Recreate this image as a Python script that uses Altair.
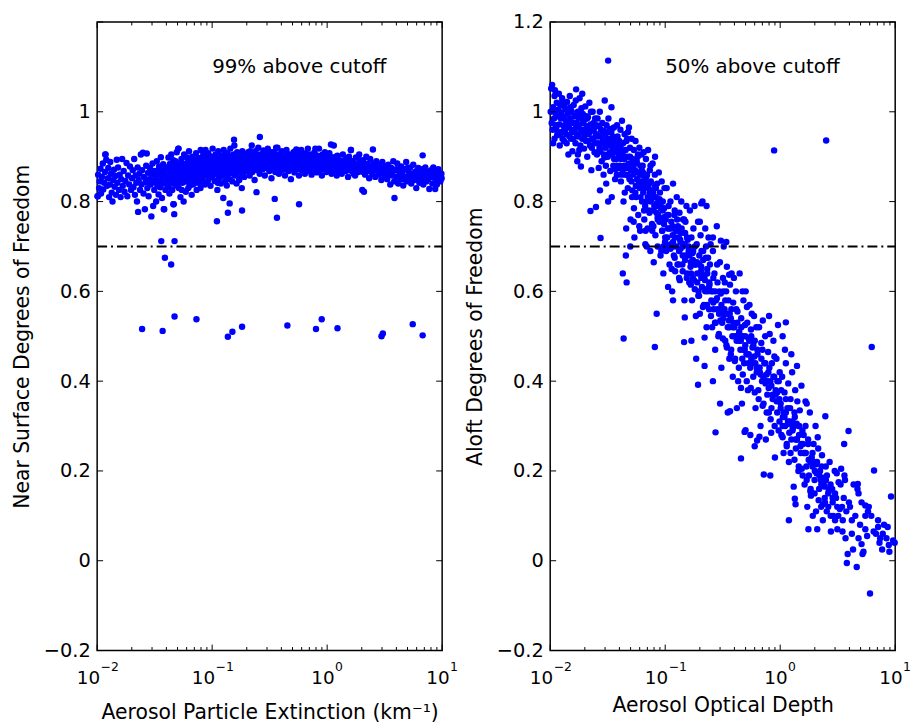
import altair as alt
import pandas as pd

# ---------------- left panel: near-surface DOF vs extinction ----------------
ext_a = [(0.0101,0.812),(0.0102,0.860),(0.0104,0.830),(0.0105,0.845),(0.0107,0.873),(0.0108,0.818),(0.0110,0.855),(0.0112,0.885),(0.0113,0.827),(0.0115,0.842),(0.0117,0.866),(0.0118,0.905),(0.0120,0.893),(0.0122,0.835),(0.0124,0.852),(0.0125,0.875),(0.0127,0.810),(0.0129,0.838),(0.0130,0.888),(0.0132,0.862),(0.0134,0.820),(0.0136,0.800),(0.0138,0.848),(0.0140,0.871),(0.0142,0.833),(0.0144,0.857),(0.0146,0.815),(0.0148,0.893),(0.0150,0.842),(0.0152,0.876),(0.0155,0.826),(0.0157,0.860),(0.0160,0.810),(0.0162,0.850),(0.0165,0.895),(0.0167,0.835),(0.0170,0.868),(0.0173,0.822),(0.0176,0.846),(0.0180,0.886),(0.0183,0.812),(0.0186,0.858),(0.0190,0.838),(0.0193,0.878),(0.0197,0.826)]
ext_b = [(0.0201,0.852),(0.0204,0.870),(0.0207,0.832),(0.0210,0.895),(0.0213,0.815),(0.0216,0.858),(0.0219,0.842),(0.0222,0.800),(0.0225,0.876),(0.0227,0.777),(0.0230,0.848),(0.0233,0.862),(0.0236,0.826),(0.0240,0.905),(0.0243,0.838),(0.0246,0.870),(0.0250,0.909),(0.0253,0.818),(0.0256,0.855),(0.0260,0.783),(0.0263,0.843),(0.0267,0.880),(0.0270,0.907),(0.0273,0.830),(0.0277,0.864),(0.0280,0.812),(0.0284,0.850),(0.0288,0.875),(0.0292,0.838),(0.0296,0.767),(0.0299,0.860),(0.0303,0.885),(0.0307,0.790),(0.0310,0.846),(0.0314,0.826),(0.0318,0.868),(0.0322,0.852),(0.0326,0.800),(0.0330,0.890),(0.0334,0.835),(0.0338,0.860),(0.0342,0.816),(0.0346,0.878),(0.0350,0.847),(0.0354,0.832),(0.0358,0.899),(0.0362,0.865),(0.0366,0.808),(0.0370,0.853),(0.0375,0.883),(0.0380,0.783),(0.0384,0.840),(0.0388,0.872),(0.0393,0.826),(0.0397,0.858)]
ext_c = [(0.0402,0.845),(0.0405,0.876),(0.0409,0.860),(0.0413,0.832),(0.0417,0.898),(0.0421,0.852),(0.0425,0.818),(0.0429,0.884),(0.0433,0.866),(0.0437,0.840),(0.0441,0.905),(0.0445,0.870),(0.0450,0.826),(0.0454,0.855),(0.0459,0.892),(0.0463,0.794),(0.0468,0.772),(0.0472,0.848),(0.0477,0.878),(0.0482,0.862),(0.0487,0.836),(0.0492,0.910),(0.0497,0.870),(0.0502,0.850),(0.0508,0.918),(0.0513,0.830),(0.0518,0.885),(0.0524,0.866),(0.0530,0.810),(0.0535,0.852),(0.0541,0.895),(0.0547,0.875),(0.0553,0.842),(0.0559,0.862),(0.0565,0.800),(0.0571,0.905),(0.0577,0.882),(0.0583,0.856),(0.0590,0.822),(0.0596,0.870),(0.0603,0.898),(0.0609,0.845),(0.0616,0.876),(0.0622,0.860),(0.0629,0.912),(0.0636,0.835),(0.0643,0.888),(0.0650,0.868),(0.0657,0.850),(0.0664,0.815),(0.0671,0.900),(0.0679,0.878),(0.0686,0.857),(0.0694,0.840),(0.0701,0.892),(0.0709,0.870),(0.0717,0.848),(0.0725,0.908),(0.0733,0.826),(0.0741,0.882),(0.0749,0.862),(0.0757,0.842),(0.0766,0.897),(0.0774,0.875),(0.0783,0.855),(0.0792,0.830),(0.0795,0.915)]
ext_d = [(0.0801,0.868),(0.0810,0.890),(0.0819,0.850),(0.0828,0.875),(0.0837,0.905),(0.0846,0.858),(0.0856,0.884),(0.0865,0.838),(0.0875,0.915),(0.0885,0.866),(0.0895,0.895),(0.0905,0.878),(0.0915,0.845),(0.0925,0.908),(0.0936,0.860),(0.0946,0.888),(0.0957,0.872),(0.0968,0.835),(0.0979,0.900),(0.0990,0.880),(0.100,0.855),(0.101,0.918),(0.102,0.870),(0.104,0.892),(0.105,0.846),(0.106,0.878),(0.107,0.905),(0.108,0.862),(0.110,0.885),(0.111,0.826),(0.112,0.870),(0.113,0.912),(0.115,0.852),(0.116,0.895),(0.117,0.876),(0.119,0.840),(0.120,0.902),(0.121,0.866),(0.123,0.888),(0.124,0.858),(0.126,0.915),(0.127,0.878),(0.129,0.845),(0.130,0.898),(0.131,0.870),(0.133,0.885),(0.134,0.836),(0.136,0.908),(0.137,0.862),(0.139,0.892),(0.140,0.876),(0.142,0.850),(0.144,0.918),(0.145,0.882),(0.147,0.864),(0.149,0.900),(0.150,0.845),(0.152,0.888),(0.154,0.872),(0.156,0.925),(0.157,0.858),(0.159,0.896),(0.161,0.880),(0.163,0.840),(0.165,0.910),(0.167,0.868),(0.169,0.890),(0.171,0.852),(0.173,0.878),(0.175,0.902),(0.177,0.865),(0.179,0.884),(0.181,0.830),(0.183,0.912),(0.186,0.872),(0.188,0.895),(0.190,0.855),(0.192,0.880),(0.195,0.905),(0.197,0.868)]
ext_e = [(0.200,0.890),(0.203,0.872),(0.206,0.910),(0.209,0.882),(0.212,0.858),(0.215,0.900),(0.218,0.876),(0.221,0.925),(0.224,0.866),(0.228,0.895),(0.231,0.885),(0.234,0.848),(0.238,0.912),(0.241,0.878),(0.245,0.898),(0.248,0.870),(0.252,0.920),(0.256,0.888),(0.259,0.862),(0.263,0.905),(0.267,0.880),(0.271,0.895),(0.275,0.872),(0.279,0.914),(0.283,0.890),(0.287,0.858),(0.291,0.900),(0.296,0.882),(0.300,0.875),(0.305,0.918),(0.309,0.895),(0.314,0.868),(0.319,0.905),(0.323,0.885),(0.328,0.852),(0.333,0.898),(0.338,0.878),(0.343,0.910),(0.348,0.888),(0.354,0.866),(0.359,0.900),(0.364,0.880),(0.370,0.920),(0.375,0.892),(0.381,0.862),(0.387,0.905),(0.393,0.884),(0.399,0.870),(0.405,0.912),(0.411,0.895),(0.417,0.876),(0.423,0.900),(0.430,0.858),(0.436,0.888),(0.443,0.915),(0.449,0.878),(0.456,0.895),(0.463,0.868),(0.470,0.905),(0.477,0.885),(0.484,0.850),(0.491,0.892),(0.498,0.874)]
ext_f = [(0.505,0.900),(0.513,0.880),(0.520,0.865),(0.528,0.912),(0.536,0.890),(0.544,0.872),(0.552,0.905),(0.560,0.884),(0.569,0.858),(0.577,0.898),(0.586,0.876),(0.595,0.915),(0.604,0.892),(0.613,0.870),(0.622,0.902),(0.631,0.882),(0.640,0.862),(0.650,0.908),(0.660,0.888),(0.670,0.875),(0.680,0.918),(0.690,0.895),(0.700,0.868),(0.710,0.900),(0.721,0.884),(0.732,0.860),(0.743,0.905),(0.754,0.888),(0.765,0.872),(0.776,0.910),(0.788,0.893),(0.800,0.878),(0.812,0.865),(0.824,0.902),(0.836,0.885),(0.849,0.918),(0.861,0.870),(0.874,0.896),(0.887,0.880),(0.900,0.858),(0.914,0.905),(0.928,0.888),(0.942,0.874),(0.956,0.910),(0.970,0.892),(0.985,0.866),(1.000,0.900),(1.015,0.882),(1.030,0.870),(1.045,0.908),(1.060,0.890),(1.076,0.876),(1.092,0.862),(1.108,0.898),(1.125,0.885),(1.142,0.925),(1.159,0.872),(1.176,0.895),(1.194,0.880),(1.212,0.858),(1.230,0.902),(1.248,0.886),(1.267,0.868),(1.286,0.892)]
ext_g = [(1.31,0.880),(1.34,0.862),(1.37,0.905),(1.40,0.885),(1.43,0.870),(1.46,0.895),(1.49,0.876),(1.52,0.855),(1.55,0.900),(1.58,0.882),(1.61,0.915),(1.64,0.868),(1.68,0.890),(1.71,0.875),(1.75,0.858),(1.78,0.898),(1.82,0.880),(1.86,0.866),(1.90,0.905),(1.94,0.885),(1.98,0.872),(2.02,0.826),(2.06,0.892),(2.09,0.822),(2.10,0.878),(2.14,0.860),(2.19,0.900),(2.23,0.884),(2.28,0.868),(2.32,0.852),(2.37,0.895),(2.42,0.878),(2.47,0.862),(2.50,0.916),(2.52,0.885),(2.57,0.870),(2.62,0.855),(2.68,0.890),(2.73,0.874),(2.79,0.860),(2.85,0.882),(2.90,0.866),(2.96,0.848),(3.02,0.888),(3.08,0.872),(3.14,0.858),(3.20,0.878)]
ext_h = [(3.27,0.865),(3.33,0.850),(3.40,0.882),(3.47,0.868),(3.54,0.838),(3.61,0.875),(3.68,0.858),(3.76,0.890),(3.85,0.808),(3.83,0.845),(3.91,0.870),(3.99,0.855),(4.07,0.885),(4.15,0.840),(4.24,0.866),(4.32,0.850),(4.41,0.878),(4.50,0.862),(4.59,0.836),(4.68,0.872),(4.78,0.855),(4.87,0.888),(4.97,0.845),(5.07,0.868),(5.18,0.852),(5.28,0.876),(5.39,0.840),(5.50,0.862),(5.61,0.882),(5.72,0.848),(5.84,0.866),(5.96,0.830),(6.08,0.858),(6.20,0.875),(6.33,0.842),(6.46,0.862),(6.59,0.850),(6.77,0.903),(6.72,0.872),(6.86,0.838),(7.00,0.858),(7.14,0.876),(7.28,0.845),(7.43,0.865),(7.58,0.850),(7.74,0.828),(7.90,0.868),(8.06,0.855),(8.22,0.840),(8.39,0.876),(8.56,0.858),(8.70,0.828),(8.73,0.845),(8.91,0.866),(9.09,0.850),(9.27,0.872),(9.46,0.858),(9.65,0.845),(9.85,0.862)]
ext_fill = [(0.052,0.862),(0.056,0.884),(0.061,0.872),(0.066,0.890),(0.070,0.862),(0.074,0.895),(0.078,0.870),(0.083,0.882),(0.087,0.898),(0.091,0.868),(0.094,0.885),(0.098,0.864),(0.103,0.882),(0.109,0.896),(0.114,0.868),(0.118,0.885),(0.122,0.876),(0.128,0.900),(0.132,0.864),(0.138,0.882),(0.143,0.895),(0.148,0.872),(0.153,0.905),(0.158,0.885),(0.164,0.898),(0.170,0.875),(0.176,0.890),(0.182,0.902),(0.189,0.882),(0.196,0.895),(0.205,0.880),(0.214,0.912),(0.222,0.895),(0.232,0.905),(0.242,0.885),(0.250,0.900),(0.261,0.890),(0.273,0.905),(0.285,0.876),(0.298,0.895),(0.311,0.885),(0.326,0.910),(0.340,0.895),(0.356,0.878),(0.372,0.905),(0.390,0.892),(0.408,0.882),(0.426,0.900),(0.446,0.890),(0.466,0.882),(0.488,0.904),(0.510,0.890),(0.533,0.900),(0.557,0.878),(0.582,0.890),(0.610,0.882),(0.638,0.895),(0.668,0.885),(0.700,0.905),(0.733,0.876),(0.767,0.895),(0.803,0.890),(0.842,0.878),(0.880,0.900),(0.920,0.885),(0.963,0.896),(1.008,0.878),(1.055,0.895),(1.100,0.870),(1.150,0.888),(1.200,0.870),(1.270,0.880),(1.350,0.890),(1.450,0.868),(1.600,0.890),(1.720,0.885),(1.850,0.878),(2.000,0.890),(2.200,0.870),(2.450,0.866),(2.700,0.885),(3.000,0.870),(3.500,0.860),(4.000,0.872),(4.600,0.850),(5.200,0.860),(6.000,0.868),(7.000,0.845),(8.000,0.862),(9.000,0.838),(9.900,0.852),(0.0435,0.862),(0.0455,0.840),(0.0480,0.890),(0.0515,0.842),(0.0545,0.826),(0.0580,0.845),(0.0620,0.830),(0.0680,0.838),(0.0730,0.860),(0.0818,0.842),(0.0862,0.860),(0.0932,0.852),(0.0975,0.900),(0.105,0.870),(0.112,0.842),(0.126,0.858),(0.135,0.855),(0.146,0.865),(0.160,0.860),(0.172,0.848),(0.185,0.862)]
ext_fill2 = [(0.0305,0.865),(0.0325,0.842),(0.0345,0.870),(0.0365,0.840),(0.0385,0.860),(0.0405,0.855),(0.0425,0.878),(0.0447,0.852),(0.0470,0.872),(0.0493,0.846),(0.0516,0.875),(0.0540,0.858),(0.0565,0.882),(0.0590,0.860),(0.0617,0.888),(0.0645,0.855),(0.0673,0.876),(0.0703,0.882),(0.0734,0.872),(0.0766,0.886),(0.0800,0.858),(0.0835,0.896),(0.0871,0.874),(0.0909,0.890),(0.0948,0.876),(0.0989,0.892),(0.103,0.860),(0.107,0.888),(0.112,0.900),(0.117,0.864),(0.122,0.892),(0.127,0.870),(0.132,0.904),(0.138,0.870),(0.144,0.900),(0.150,0.875),(0.156,0.892),(0.163,0.870),(0.170,0.905),(0.177,0.876),(0.185,0.895),(0.193,0.872),(0.201,0.905),(0.210,0.870),(0.219,0.885),(0.228,0.900),(0.238,0.875),(0.248,0.890),(0.259,0.876),(0.270,0.900),(0.282,0.895),(0.294,0.880),(0.307,0.908),(0.320,0.872),(0.334,0.888),(0.348,0.902),(0.363,0.890),(0.379,0.875),(0.395,0.898),(0.412,0.888),(0.430,0.872),(0.449,0.902),(0.468,0.895),(0.489,0.878),(0.510,0.910),(0.532,0.878),(0.555,0.892),(0.579,0.905),(0.604,0.870),(0.630,0.892),(0.657,0.898),(0.686,0.875),(0.716,0.892),(0.747,0.902),(0.779,0.880),(0.813,0.895),(0.848,0.890),(0.885,0.902),(0.923,0.872),(0.963,0.885),(1.005,0.875),(1.050,0.902),(1.095,0.885),(1.140,0.895),(1.190,0.900),(1.240,0.872),(1.300,0.870),(1.380,0.876),(1.480,0.888),(1.580,0.870),(1.700,0.862),(1.800,0.872),(1.920,0.892),(2.050,0.866),(2.250,0.882),(2.500,0.875),(2.800,0.876),(3.100,0.862),(3.400,0.872),(3.700,0.866),(4.300,0.858),(5.000,0.875),(5.600,0.858),(6.300,0.852),(7.200,0.862),(8.200,0.872),(9.300,0.862)]
ext_out = [(0.0361,0.712),(0.0471,0.712),(0.0388,0.675),(0.0440,0.660),(0.0246,0.516),(0.0371,0.512),(0.0471,0.544),(0.0730,0.538),(0.137,0.499),(0.150,0.510),(0.182,0.521),(0.451,0.524),(0.800,0.516),(0.897,0.538),(1.23,0.518),(2.97,0.500),(3.05,0.506),(5.55,0.527),(6.77,0.502),(0.110,0.756),(0.366,0.764),(0.182,0.780),(0.137,0.775),(0.142,0.796),(0.125,0.808),(0.350,0.806),(0.570,0.794),(0.243,0.821),(0.0460,0.794),(0.0383,0.783),(0.260,0.944),(0.155,0.938),(1.08,0.927),(0.0118,0.905),(0.0510,0.918),(1.61,0.915),(0.790,0.918),(0.360,0.920),(0.540,0.916),(0.0101,0.812)]

# ---------------- right panel: aloft DOF vs optical depth ----------------
aod_1 = [(0.0101,1.000),(0.0102,1.052),(0.0103,0.975),(0.0104,1.060),(0.0105,0.960),(0.0106,1.010),(0.0108,0.985),(0.0109,0.940),(0.0110,1.048),(0.0111,0.998),(0.0113,0.965),(0.0114,1.020),(0.0115,0.948),(0.0117,0.990),(0.0118,1.005),(0.0120,0.972),(0.0121,0.925),(0.0123,1.015),(0.0124,0.985),(0.0126,0.955),(0.0127,1.030),(0.0129,0.990),(0.0131,0.968),(0.0132,0.935),(0.0134,1.010),(0.0136,0.982),(0.0138,0.950),(0.0140,1.022),(0.0142,0.995),(0.0144,0.905),(0.0146,0.965),(0.0148,1.035),(0.0150,0.985),(0.0152,0.940),(0.0154,1.000),(0.0156,0.912),(0.0158,0.975),(0.0135,0.960),(0.0125,0.998),(0.0112,0.970)]
aod_2 = [(0.0160,1.015),(0.0162,0.960),(0.0164,0.990),(0.0166,0.930),(0.0168,1.050),(0.0170,0.975),(0.0172,0.890),(0.0174,1.000),(0.0176,0.945),(0.0178,0.985),(0.0180,1.030),(0.0182,0.962),(0.0185,0.878),(0.0187,1.008),(0.0190,0.940),(0.0192,0.995),(0.0195,0.955),(0.0197,0.918),(0.0200,0.982),(0.0202,1.012),(0.0205,0.935),(0.0208,0.968),(0.0210,0.900),(0.0213,0.988),(0.0216,0.950),(0.0219,1.020),(0.0222,0.925),(0.0225,0.972),(0.0228,0.870),(0.0231,0.958),(0.0234,1.000),(0.0237,0.938),(0.0240,0.965),(0.0243,0.910),(0.0246,0.985),(0.0249,0.948),(0.0168,0.970),(0.0183,0.925),(0.0199,0.960),(0.0215,0.960),(0.0230,0.920),(0.0174,0.905),(0.0206,0.990),(0.0238,0.975),(0.0190,1.040)]
aod_3 = [(0.0252,0.950),(0.0255,0.905),(0.0258,0.985),(0.0261,0.930),(0.0264,0.875),(0.0267,0.968),(0.0270,1.000),(0.0274,0.915),(0.0277,0.945),(0.0280,0.890),(0.0284,0.975),(0.0287,0.935),(0.0291,0.860),(0.0294,0.958),(0.0298,1.025),(0.0302,0.920),(0.0305,0.880),(0.0309,0.970),(0.0313,0.940),(0.0317,0.900),(0.0321,0.985),(0.0325,0.925),(0.0329,0.955),(0.0333,0.868),(0.0337,0.930),(0.0341,1.010),(0.0345,0.905),(0.0350,0.945),(0.0354,0.880),(0.0358,0.965),(0.0363,0.915),(0.0367,0.850),(0.0372,0.940),(0.0376,0.895),(0.0381,0.970),(0.0386,0.860),(0.0390,0.925),(0.0395,0.900),(0.0262,0.910),(0.0279,0.948),(0.0296,0.898),(0.0315,0.935),(0.0332,0.962),(0.0349,0.920),(0.0368,0.872),(0.0385,0.945),(0.0271,0.825),(0.0307,0.840),(0.0343,0.810),(0.0378,0.880),(0.0224,0.779),(0.0250,0.788),(0.0274,0.719),(0.0319,0.800),(0.0319,1.114)]
aod_4 = [(0.0399,0.935),(0.0403,0.880),(0.0408,0.960),(0.0412,0.845),(0.0416,0.910),(0.0421,0.980),(0.0425,0.870),(0.0430,0.930),(0.0434,0.800),(0.0439,0.895),(0.0444,0.950),(0.0448,0.860),(0.0453,0.915),(0.0458,0.740),(0.0463,0.875),(0.0468,0.940),(0.0473,0.830),(0.0478,0.900),(0.0484,0.965),(0.0489,0.855),(0.0494,0.920),(0.0500,0.760),(0.0505,0.880),(0.0511,0.940),(0.0517,0.825),(0.0522,0.895),(0.0528,0.860),(0.0534,0.915),(0.0540,0.720),(0.0546,0.870),(0.0552,0.935),(0.0558,0.810),(0.0564,0.885),(0.0570,0.850),(0.0577,0.900),(0.0583,0.770),(0.0590,0.865),(0.0596,0.920),(0.0603,0.830),(0.0609,0.880),(0.0616,0.845),(0.0623,0.905),(0.0630,0.800),(0.0415,0.905),(0.0445,0.820),(0.0475,0.955),(0.0505,0.870),(0.0535,0.785),(0.0565,0.890),(0.0595,0.745),(0.0625,0.860),(0.0428,0.640),(0.0462,0.620),(0.0497,0.700),(0.0532,0.755),(0.0568,0.835),(0.0605,0.735),(0.0455,0.680),(0.0419,0.860),(0.0515,0.810),(0.0435,0.495)]
aod_5 = [(0.0637,0.880),(0.0644,0.820),(0.0651,0.910),(0.0658,0.760),(0.0665,0.850),(0.0672,0.705),(0.0680,0.895),(0.0687,0.800),(0.0695,0.860),(0.0703,0.740),(0.0710,0.915),(0.0718,0.830),(0.0726,0.780),(0.0735,0.870),(0.0743,0.690),(0.0751,0.845),(0.0760,0.805),(0.0768,0.750),(0.0777,0.885),(0.0786,0.820),(0.0795,0.665),(0.0804,0.790),(0.0813,0.860),(0.0822,0.725),(0.0831,0.810),(0.0841,0.775),(0.0850,0.840),(0.0860,0.700),(0.0870,0.800),(0.0880,0.865),(0.0890,0.755),(0.0900,0.820),(0.0911,0.680),(0.0921,0.785),(0.0932,0.845),(0.0942,0.735),(0.0953,0.800),(0.0964,0.640),(0.0975,0.765),(0.0986,0.830),(0.0997,0.710),(0.0655,0.780),(0.0692,0.700),(0.0732,0.820),(0.0772,0.735),(0.0816,0.900),(0.0862,0.760),(0.0912,0.790),(0.0962,0.700),(0.0675,0.735),(0.0745,0.880),(0.0835,0.790),(0.0925,0.690),(0.0813,0.476),(0.0843,0.550)]
aod_6 = [(0.101,0.760),(0.102,0.690),(0.103,0.830),(0.104,0.720),(0.106,0.610),(0.107,0.790),(0.108,0.740),(0.109,0.660),(0.111,0.800),(0.112,0.705),(0.113,0.755),(0.115,0.600),(0.116,0.725),(0.117,0.840),(0.119,0.680),(0.120,0.770),(0.122,0.645),(0.123,0.735),(0.125,0.700),(0.126,0.810),(0.128,0.660),(0.129,0.745),(0.131,0.720),(0.133,0.775),(0.134,0.625),(0.136,0.695),(0.138,0.800),(0.139,0.740),(0.141,0.660),(0.143,0.760),(0.145,0.705),(0.147,0.580),(0.149,0.730),(0.151,0.680),(0.153,0.790),(0.155,0.640),(0.157,0.715),(0.105,0.740),(0.114,0.650),(0.121,0.780),(0.127,0.740),(0.135,0.715),(0.142,0.680),(0.150,0.755),(0.118,0.700),(0.132,0.630),(0.146,0.760),(0.117,0.580),(0.148,0.542),(0.146,0.487)]
aod_7 = [(0.160,0.700),(0.162,0.620),(0.164,0.780),(0.166,0.655),(0.169,0.720),(0.171,0.580),(0.173,0.685),(0.176,0.740),(0.178,0.625),(0.180,0.790),(0.183,0.660),(0.185,0.545),(0.188,0.705),(0.190,0.640),(0.193,0.755),(0.195,0.600),(0.198,0.680),(0.200,0.550),(0.203,0.725),(0.206,0.655),(0.209,0.610),(0.211,0.800),(0.214,0.690),(0.217,0.570),(0.220,0.635),(0.223,0.740),(0.226,0.675),(0.229,0.520),(0.232,0.650),(0.235,0.600),(0.238,0.720),(0.241,0.560),(0.245,0.660),(0.248,0.705),(0.167,0.665),(0.181,0.700),(0.194,0.590),(0.207,0.690),(0.221,0.605),(0.236,0.675),(0.174,0.630),(0.201,0.640),(0.227,0.700),(0.243,0.615),(0.206,0.796),(0.229,0.790),(0.200,0.755),(0.169,0.490),(0.186,0.450),(0.220,0.497),(0.193,0.392),(0.220,0.434)]
aod_8 = [(0.252,0.600),(0.256,0.520),(0.260,0.690),(0.264,0.560),(0.268,0.640),(0.272,0.470),(0.277,0.580),(0.281,0.745),(0.285,0.620),(0.290,0.500),(0.294,0.550),(0.299,0.665),(0.304,0.595),(0.308,0.430),(0.313,0.530),(0.318,0.630),(0.323,0.700),(0.328,0.560),(0.333,0.490),(0.339,0.600),(0.344,0.655),(0.350,0.520),(0.355,0.580),(0.361,0.450),(0.366,0.615),(0.372,0.540),(0.378,0.640),(0.384,0.500),(0.390,0.575),(0.396,0.630),(0.262,0.575),(0.283,0.660),(0.302,0.535),(0.320,0.600),(0.341,0.480),(0.364,0.550),(0.387,0.410),(0.275,0.530),(0.330,0.620),(0.375,0.470),(0.305,0.713),(0.340,0.710),(0.260,0.720),(0.274,0.286),(0.260,0.400),(0.300,0.350),(0.350,0.330),(0.366,0.333)]
aod_9 = [(0.400,0.520),(0.406,0.450),(0.412,0.600),(0.418,0.490),(0.425,0.555),(0.431,0.400),(0.438,0.505),(0.444,0.640),(0.451,0.470),(0.458,0.540),(0.465,0.350),(0.472,0.500),(0.479,0.580),(0.486,0.440),(0.494,0.525),(0.501,0.600),(0.509,0.460),(0.517,0.530),(0.524,0.380),(0.532,0.495),(0.541,0.570),(0.549,0.430),(0.557,0.515),(0.566,0.550),(0.574,0.475),(0.583,0.410),(0.592,0.545),(0.601,0.490),(0.610,0.340),(0.620,0.520),(0.415,0.560),(0.440,0.510),(0.468,0.450),(0.497,0.480),(0.528,0.440),(0.560,0.500),(0.595,0.455),(0.625,0.420),(0.456,0.385),(0.514,0.565),(0.360,0.637),(0.470,0.600),(0.456,0.228),(0.490,0.287),(0.500,0.291),(0.420,0.340),(0.550,0.280),(0.600,0.255)]
aod_10 = [(0.635,0.460),(0.645,0.380),(0.655,0.520),(0.665,0.420),(0.675,0.300),(0.685,0.485),(0.696,0.400),(0.706,0.535),(0.717,0.350),(0.728,0.440),(0.739,0.500),(0.750,0.270),(0.762,0.415),(0.773,0.370),(0.785,0.465),(0.797,0.330),(0.810,0.505),(0.822,0.400),(0.835,0.285),(0.847,0.440),(0.860,0.360),(0.873,0.490),(0.887,0.410),(0.900,0.230),(0.914,0.380),(0.928,0.450),(0.942,0.330),(0.957,0.525),(0.971,0.400),(0.986,0.310),(0.660,0.430),(0.700,0.470),(0.745,0.395),(0.790,0.420),(0.840,0.340),(0.890,0.455),(0.940,0.375),(0.990,0.420),(0.720,0.192),(0.820,0.190),(0.630,0.268),(0.660,0.276),(0.800,0.545),(0.885,0.914)]
aod_11 = [(1.01,0.350),(1.025,0.280),(1.04,0.410),(1.055,0.320),(1.07,0.240),(1.09,0.375),(1.105,0.300),(1.12,0.440),(1.14,0.260),(1.155,0.340),(1.175,0.395),(1.19,0.220),(1.21,0.310),(1.23,0.360),(1.25,0.270),(1.27,0.420),(1.29,0.295),(1.31,0.165),(1.33,0.330),(1.35,0.380),(1.37,0.250),(1.39,0.305),(1.41,0.355),(1.44,0.200),(1.46,0.280),(1.48,0.335),(1.51,0.240),(1.53,0.390),(1.56,0.290),(1.58,0.260),(1.05,0.300),(1.12,0.330),(1.20,0.285),(1.28,0.310),(1.36,0.270),(1.45,0.300),(1.54,0.205),(1.19,0.090),(1.34,0.138),(1.36,0.126),(1.12,0.531),(1.05,0.500),(1.10,0.470),(1.40,0.434),(1.25,0.460)]
aod_12 = [(1.60,0.240),(1.63,0.170),(1.66,0.300),(1.69,0.210),(1.72,0.120),(1.75,0.270),(1.78,0.190),(1.81,0.330),(1.85,0.145),(1.88,0.230),(1.92,0.100),(1.95,0.260),(1.99,0.180),(2.03,0.300),(2.06,0.215),(2.10,0.070),(2.14,0.250),(2.18,0.160),(2.22,0.200),(2.27,0.120),(2.31,0.235),(2.35,0.090),(2.40,0.185),(2.44,0.140),(2.49,0.210),(1.70,0.350),(1.83,0.155),(1.97,0.220),(2.12,0.275),(2.28,0.170),(2.45,0.130),(1.76,0.070),(2.05,0.110),(1.66,0.355),(2.47,0.322),(2.51,0.936)]
aod_13 = [(2.55,0.190),(2.62,0.120),(2.69,0.220),(2.76,0.065),(2.83,0.160),(2.90,0.100),(2.98,0.200),(3.06,0.140),(3.14,0.070),(3.22,0.175),(3.30,0.115),(3.39,0.205),(3.48,0.065),(3.57,0.140),(3.66,0.180),(3.76,0.110),(3.86,0.015),(3.96,0.130),(2.70,0.160),(3.00,0.090),(3.35,0.170),(3.70,0.050),(3.93,0.289),(3.80,-0.005),(3.45,0.120),(3.10,0.195),(3.60,0.260),(3.62,0.190)]
aod_14 = [(4.05,0.120),(4.20,0.060),(4.35,0.170),(4.50,0.100),(4.63,-0.014),(4.80,0.150),(4.95,0.080),(5.10,0.130),(5.30,0.020),(5.50,0.100),(5.70,0.055),(5.90,0.120),(6.04,-0.073),(6.25,0.476),(6.55,0.201),(6.80,0.060),(7.10,0.075),(7.40,0.050),(7.70,0.025),(8.00,0.080),(8.40,0.050),(8.80,0.035),(9.20,0.143),(9.60,0.045),(4.30,0.025),(4.70,0.160),(5.20,0.015),(5.80,0.110),(6.50,0.065),(7.30,0.040),(8.60,0.075),(4.73,0.171),(5.50,0.123),(5.10,0.037),(7.10,0.090)]
aod_fill_a = [(0.0106,0.930),(0.0109,1.035),(0.0113,0.990),(0.0116,0.955),(0.0119,1.040),(0.0122,0.950),(0.0126,1.020),(0.0128,0.940),(0.0133,0.970),(0.0137,1.005),(0.0139,0.930),(0.0143,0.975),(0.0147,0.945),(0.0151,1.010),(0.0155,0.955),(0.0159,0.940),(0.0163,0.990),(0.0167,1.025),(0.0171,0.950),(0.0175,0.970),(0.0179,0.915),(0.0184,0.990),(0.0188,0.955),(0.0193,0.975),(0.0198,0.945),(0.0203,0.960),(0.0209,0.985),(0.0214,0.935),(0.0220,0.955),(0.0226,1.000),(0.0232,0.940),(0.0239,0.960),(0.0245,0.930),(0.0253,0.970),(0.0260,0.945),(0.0268,0.920),(0.0276,0.960),(0.0285,0.930),(0.0293,0.905),(0.0301,0.950),(0.0310,0.925),(0.0320,0.940),(0.0330,0.910),(0.0340,0.955),(0.0350,0.930),(0.0360,0.895),(0.0370,0.910),(0.0380,0.935),(0.0390,0.875),(0.0400,0.915),(0.0413,0.895),(0.0426,0.910),(0.0440,0.880),(0.0452,0.900),(0.0466,0.860),(0.0480,0.885),(0.0495,0.900),(0.0510,0.845),(0.0525,0.875),(0.0540,0.890),(0.0556,0.835),(0.0573,0.865),(0.0590,0.840),(0.0608,0.860),(0.0626,0.870),(0.0645,0.840),(0.0664,0.830),(0.0684,0.855),(0.0705,0.810),(0.0726,0.840),(0.0748,0.800),(0.0770,0.825),(0.0793,0.780),(0.0817,0.835),(0.0842,0.795),(0.0867,0.770),(0.0893,0.805),(0.0920,0.760),(0.0948,0.780),(0.0976,0.750)]
aod_fill_b = [(0.100,0.720),(0.104,0.770),(0.108,0.700),(0.112,0.740),(0.117,0.710),(0.122,0.720),(0.127,0.760),(0.132,0.690),(0.137,0.730),(0.143,0.700),(0.149,0.670),(0.155,0.720),(0.162,0.680),(0.168,0.640),(0.175,0.690),(0.182,0.660),(0.190,0.620),(0.198,0.660),(0.206,0.630),(0.214,0.670),(0.223,0.600),(0.232,0.640),(0.242,0.620),(0.252,0.580),(0.262,0.630),(0.273,0.600),(0.284,0.560),(0.296,0.600),(0.308,0.570),(0.320,0.540),(0.333,0.580),(0.347,0.550),(0.361,0.520),(0.376,0.560),(0.391,0.530),(0.407,0.500),(0.424,0.530),(0.441,0.490),(0.459,0.520),(0.478,0.470),(0.497,0.500),(0.518,0.460),(0.539,0.490),(0.561,0.450),(0.584,0.480),(0.608,0.440),(0.633,0.470),(0.659,0.430),(0.686,0.450),(0.714,0.410),(0.743,0.440),(0.773,0.400),(0.805,0.430),(0.838,0.390),(0.872,0.410),(0.908,0.370),(0.945,0.400),(0.984,0.360)]
aod_fill_c = [(1.02,0.380),(1.07,0.330),(1.12,0.360),(1.17,0.310),(1.22,0.340),(1.28,0.300),(1.34,0.320),(1.40,0.270),(1.46,0.300),(1.53,0.260),(1.60,0.280),(1.67,0.240),(1.75,0.260),(1.83,0.220),(1.91,0.240),(2.00,0.200),(2.09,0.220),(2.19,0.190),(2.29,0.210),(2.39,0.170),(2.50,0.180),(2.62,0.150),(2.74,0.170),(2.86,0.130),(3.00,0.150),(3.13,0.120)]
aod_fill_d = [(0.032,0.905),(0.034,0.960),(0.036,0.940),(0.038,0.860),(0.041,0.920),(0.043,0.875),(0.046,0.935),(0.049,0.850),(0.052,0.890),(0.055,0.820),(0.058,0.905),(0.061,0.810),(0.064,0.865),(0.067,0.790),(0.070,0.840),(0.073,0.775),(0.076,0.815),(0.079,0.745),(0.083,0.830),(0.086,0.765),(0.090,0.800),(0.094,0.735),(0.098,0.785),(0.103,0.700),(0.107,0.770),(0.111,0.695),(0.116,0.745),(0.121,0.675),(0.126,0.735),(0.131,0.660),(0.136,0.710),(0.142,0.645),(0.148,0.705),(0.154,0.630),(0.160,0.690),(0.167,0.615),(0.174,0.670),(0.181,0.605),(0.189,0.665),(0.197,0.590),(0.205,0.645),(0.213,0.565),(0.222,0.625),(0.231,0.570),(0.240,0.610),(0.250,0.545),(0.260,0.600),(0.271,0.530),(0.282,0.585),(0.293,0.505),(0.305,0.560),(0.317,0.495),(0.330,0.550),(0.344,0.475),(0.358,0.535),(0.372,0.460),(0.388,0.520),(0.403,0.445),(0.420,0.500),(0.437,0.430),(0.455,0.490),(0.473,0.415),(0.492,0.470),(0.512,0.400),(0.533,0.460),(0.555,0.385),(0.577,0.440),(0.601,0.375),(0.625,0.430),(0.650,0.360),(0.677,0.415),(0.704,0.345),(0.733,0.400),(0.763,0.330),(0.794,0.385),(0.826,0.315),(0.860,0.370),(0.895,0.300),(0.931,0.355),(0.969,0.290),(1.01,0.340),(1.05,0.275),(1.09,0.320),(1.14,0.255),(1.18,0.305),(1.23,0.240),(1.28,0.290),(1.33,0.225),(1.39,0.270),(1.45,0.210),(1.50,0.255),(1.57,0.190),(1.63,0.240),(1.70,0.180),(1.77,0.225),(1.84,0.160),(1.91,0.210),(1.99,0.150),(2.07,0.195),(2.16,0.135),(2.25,0.180),(2.34,0.125),(2.44,0.165),(2.54,0.110),(2.64,0.155),(2.75,0.100),(2.86,0.140),(3.20,0.100),(3.50,0.090),(4.20,0.090),(4.80,0.050),(5.50,0.070),(6.20,0.100),(7.80,0.060),(8.90,0.020),(9.90,0.040)]

cutoff = 0.7
notes = ["99% above cutoff", "50% above cutoff"]
x_titles = ["Aerosol Particle Extinction (km\u207b\u00b9)", "Aerosol Optical Depth"]
y_titles = ["Near Surface Degrees of Freedom", "Aloft Degrees of Freedom"]
decades = [0.01, 0.1, 1, 10]
exponents = ["\u22122", "\u22121", "0", "1"]
minor_ticks = [m * d for d in [0.01, 0.1, 1] for m in range(2, 10)]
y_ticks = [-0.2, 0, 0.2, 0.4, 0.6, 0.8, 1.0, 1.2]
y_labels_left = [-0.2, 0, 0.2, 0.4, 0.6, 0.8, 1.0]
y_labels_right = [-0.2, 0, 0.2, 0.4, 0.6, 0.8, 1.0, 1.2]

W, H = 348, 634
FONT = "DejaVu Sans"
BLUE = "#0000FF"


def to_df(groups):
    rows = [p for g in groups for p in g]
    return pd.DataFrame(rows, columns=["x", "y"])


def panel(df, xtitle, ytitle, ylabels, note, xpad):
    xs = alt.Scale(type="log", domain=[0.01, 10], nice=False)
    ys = alt.Scale(domain=[-0.2, 1.2], nice=False, zero=False)
    xax = alt.Axis(title=xtitle, labels=False, ticks=False, domain=False, grid=False,
                   titlePadding=xpad, titleFontSize=20.5, titleFont=FONT,
                   titleFontWeight="normal", titleColor="black")
    yax = alt.Axis(title=ytitle, values=ylabels, format="~g", ticks=False, domain=False,
                   grid=False, labelPadding=7, labelFontSize=19.5, labelFont=FONT,
                   labelColor="black", titlePadding=11, titleFontSize=20.5,
                   titleFont=FONT, titleFontWeight="normal", titleColor="black")

    def X(f):
        return alt.X(f, scale=xs, axis=xax)

    def Y(f):
        return alt.Y(f, scale=ys, axis=yax)

    pts = alt.Chart(df).mark_circle(size=42, color=BLUE, opacity=1).encode(
        x=X("x:Q"), y=Y("y:Q"))
    cut = alt.Chart(pd.DataFrame({"x": [0.01, 10], "y": [cutoff, cutoff]})).mark_line(
        color="black", strokeWidth=2, strokeDash=[10, 4, 2, 4]
    ).encode(x=X("x:Q"), y=Y("y:Q"))

    ytk = pd.DataFrame({"y": y_ticks})
    yl = alt.Chart(ytk).mark_rule(color="black", strokeWidth=1).encode(
        y=Y("y:Q"), x=alt.value(0), x2=alt.value(6))
    yr = alt.Chart(ytk).mark_rule(color="black", strokeWidth=1).encode(
        y=Y("y:Q"), x=alt.value(W - 6), x2=alt.value(W))
    dk = pd.DataFrame({"x": decades, "e": exponents,
                       "neg": [e.startswith("\u2212") for e in exponents]})
    mk = pd.DataFrame({"x": minor_ticks})
    xb = alt.Chart(dk).mark_rule(color="black", strokeWidth=1).encode(
        x=X("x:Q"), y=alt.value(H - 6), y2=alt.value(H))
    xt = alt.Chart(dk).mark_rule(color="black", strokeWidth=1).encode(
        x=X("x:Q"), y=alt.value(0), y2=alt.value(6))
    mb = alt.Chart(mk).mark_rule(color="black", strokeWidth=1).encode(
        x=X("x:Q"), y=alt.value(H - 3.5), y2=alt.value(H))
    mt = alt.Chart(mk).mark_rule(color="black", strokeWidth=1).encode(
        x=X("x:Q"), y=alt.value(0), y2=alt.value(3.5))

    labels = []
    for neg, off in [(True, 3), (False, 7.5)]:
        sub = dk[dk["neg"] == neg][["x", "e"]]
        ten = alt.Chart(sub).mark_text(
            text="10", align="right", baseline="alphabetic", dx=off, dy=34,
            fontSize=18.5, font=FONT, color="black"
        ).encode(x=X("x:Q"), y=alt.value(H))
        ex = alt.Chart(sub).mark_text(
            align="left", baseline="alphabetic", dx=off + 0.5, dy=21,
            fontSize=12.5, font=FONT, color="black"
        ).encode(x=X("x:Q"), y=alt.value(H), text="e:N")
        labels += [ten, ex]

    nt = alt.Chart(pd.DataFrame({"x": [0.1], "y": [1.1], "t": [note]})).mark_text(
        align="left", baseline="middle", fontSize=20, font=FONT, color="black"
    ).encode(x=X("x:Q"), y=Y("y:Q"), text="t:N")

    return alt.layer(pts, cut, yl, yr, xb, xt, mb, mt, nt, *labels).properties(
        width=W, height=H)


left = panel(to_df([ext_a, ext_b, ext_c, ext_d, ext_e, ext_f, ext_g, ext_h,
                    ext_fill, ext_fill2, ext_out]),
             x_titles[0], y_titles[0], y_labels_left, notes[0], 53)
right = panel(to_df([aod_1, aod_2, aod_3, aod_4, aod_5, aod_6, aod_7, aod_8, aod_9,
                     aod_10, aod_11, aod_12, aod_13, aod_14,
                     aod_fill_a, aod_fill_b, aod_fill_c, aod_fill_d]),
              x_titles[1], y_titles[1], y_labels_right, notes[1], 46)

chart = alt.hconcat(left, right, spacing=109, bounds="flush").properties(
    padding={"left": 11, "top": 8, "right": 5, "bottom": 5},
    background="white",
).configure_view(stroke="black", strokeWidth=1.5)

chart.save("out.html", embed_options={"renderer": "svg", "actions": False})
